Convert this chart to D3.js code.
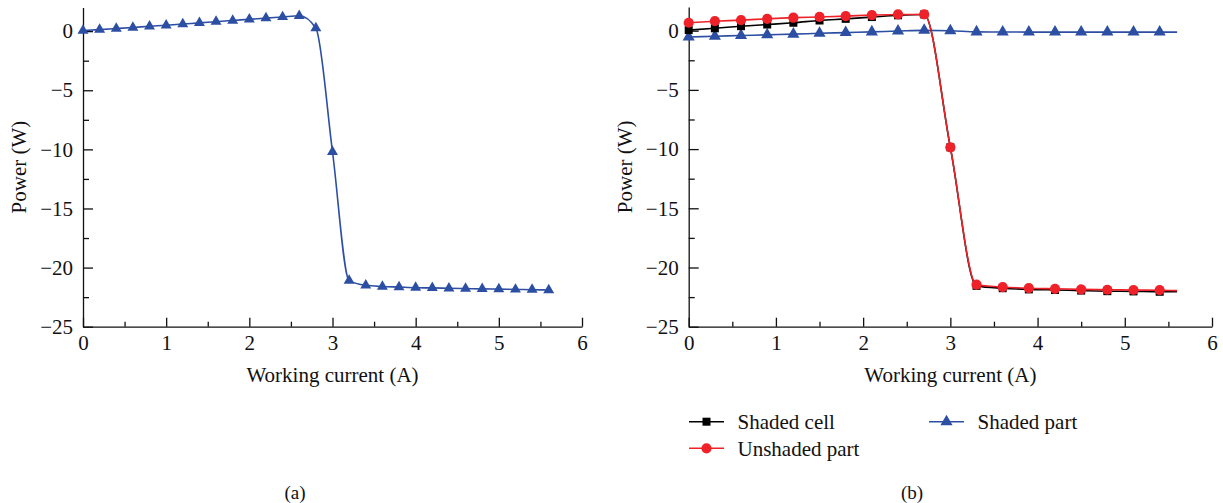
<!DOCTYPE html>
<html>
<head>
<meta charset="utf-8">
<script src="https://cdn.jsdelivr.net/npm/d3@7"></script>
<style>
  body { margin: 0; background: #fff; }
  text { font-family: "Liberation Serif", "Times New Roman", serif; fill: #111; }
</style>
</head>
<body>
<div id="chart"></div>
<script>
// panel (a): power of the shaded part vs working current
var currentA = [0, 0.2, 0.4, 0.6, 0.8, 1.0, 1.2, 1.4, 1.6, 1.8, 2.0, 2.2, 2.4, 2.6,
                2.8, 3.0, 3.2, 3.4, 3.6, 3.8, 4.0, 4.2, 4.4, 4.6, 4.8, 5.0, 5.2, 5.4, 5.6];
var powerA = [0.05, 0.13, 0.22, 0.31, 0.41, 0.5, 0.6, 0.7, 0.8, 0.9, 1.0, 1.1, 1.2, 1.3,
              0.25, -10.2, -21.1, -21.5, -21.6, -21.65, -21.7, -21.72, -21.75, -21.78,
              -21.8, -21.82, -21.85, -21.87, -21.9];

// panel (b): three series; the last value (5.6 A) is the line end, no marker
var currentB = [0, 0.3, 0.6, 0.9, 1.2, 1.5, 1.8, 2.1, 2.4, 2.7, 3.0, 3.3, 3.6, 3.9,
                4.2, 4.5, 4.8, 5.1, 5.4, 5.6];
var shadedCell = [0.05, 0.2, 0.38, 0.52, 0.67, 0.86, 1.0, 1.15, 1.3, 1.37, -9.85,
                  -21.55, -21.75, -21.85, -21.9, -21.95, -22.0, -22.02, -22.05, -22.05];
var unshadedPart = [0.67, 0.8, 0.89, 1.0, 1.1, 1.16, 1.23, 1.32, 1.37, 1.37, -9.85,
                    -21.45, -21.65, -21.75, -21.8, -21.85, -21.88, -21.9, -21.92, -21.95];
var shadedPart = [-0.53, -0.47, -0.41, -0.35, -0.29, -0.22, -0.16, -0.1, -0.03, 0.03, 0.0,
                  -0.1, -0.11, -0.12, -0.12, -0.12, -0.12, -0.12, -0.12, -0.12];
var markerLimitB = 5.4;

var xTicks = [0, 1, 2, 3, 4, 5, 6];
var xMinor = [0.5, 1.5, 2.5, 3.5, 4.5, 5.5];
var yTicks = [0, -5, -10, -15, -20, -25];
var yMinor = [-2.5, -7.5, -12.5, -17.5, -22.5];

var blue = "#2d4fa3", red = "#ee2228", black = "#000";
var serif = "'Liberation Serif', 'Times New Roman', serif";

var svg = d3.select("#chart").append("svg")
  .attr("width", 1223)
  .attr("height", 503);

function styleTicks(a) {
  a.attr("font-family", serif);
  a.selectAll("text").style("font-size", "21px").style("font-family", serif).attr("fill", "#111");
}

function drawPanel(x0, x1, yTop, letter, letterX) {
  var x = d3.scaleLinear().domain([0, 6]).range([x0, x1]);
  var y = d3.scaleLinear().domain([-25, 2]).range([326.7, yTop]);
  var g = svg.append("g");

  // minor ticks first, then the major axis on top
  g.append("g")
    .attr("transform", "translate(0," + y(-25) + ")")
    .call(d3.axisBottom(x).tickValues(xMinor).tickSize(-5).tickFormat(""))
    .call(function(a) { a.select(".domain").remove(); });
  g.append("g")
    .attr("transform", "translate(" + x(0) + ",0)")
    .call(d3.axisLeft(y).tickValues(yMinor).tickSize(-6).tickFormat(""))
    .call(function(a) { a.select(".domain").remove(); });

  g.append("g")
    .attr("transform", "translate(0," + y(-25) + ")")
    .call(d3.axisBottom(x).tickValues(xTicks).tickFormat(d3.format("d"))
      .tickSize(-9).tickSizeOuter(0).tickPadding(8))
    .call(styleTicks);
  g.append("g")
    .attr("transform", "translate(" + x(0) + ",0)")
    .call(d3.axisLeft(y).tickValues(yTicks).tickSize(-10).tickSizeOuter(0).tickPadding(10))
    .call(styleTicks);

  g.selectAll(".domain, .tick line").attr("stroke", "#111").attr("stroke-width", 1.3);

  g.append("text")
    .attr("x", (x0 + x1) / 2)
    .attr("y", 375)
    .attr("dy", "0.35em")
    .attr("text-anchor", "middle")
    .style("font-size", "21px")
    .text("Working current (A)");

  g.append("text")
    .attr("transform", "translate(" + (x0 - 64) + "," + y(-11.5) + ") rotate(-90)")
    .attr("dy", "0.35em")
    .attr("text-anchor", "middle")
    .style("font-size", "21px")
    .text("Power (W)");

  g.append("text")
    .attr("x", letterX)
    .attr("y", 492)
    .attr("dy", "0.35em")
    .attr("text-anchor", "middle")
    .style("font-size", "19px")
    .text(letter);

  return {g: g, x: x, y: y};
}

function drawSeries(p, xs, ys, color, symbol, size, limit) {
  var pts = xs.map(function(d, i) { return {x: d, y: ys[i]}; });
  var line = d3.line()
    .x(function(d) { return p.x(d.x); })
    .y(function(d) { return p.y(d.y); })
    .curve(d3.curveMonotoneX);
  p.g.append("path")
    .datum(pts)
    .attr("fill", "none")
    .attr("stroke", color)
    .attr("stroke-width", 1.6)
    .attr("d", line);
  p.g.selectAll(null)
    .data(pts.filter(function(d) { return d.x <= limit; }))
    .enter()
    .append("path")
    .attr("transform", function(d) { return "translate(" + p.x(d.x) + "," + p.y(d.y) + ")"; })
    .attr("d", d3.symbol().type(symbol).size(size))
    .attr("fill", color);
}

// (a)
var pa = drawPanel(83, 582, 7.5, "(a)", 295);
drawSeries(pa, currentA, powerA, blue, d3.symbolTriangle, 52, 6);

// (b)
var pb = drawPanel(688.7, 1212, 7, "(b)", 912);
drawSeries(pb, currentB, shadedPart, blue, d3.symbolTriangle, 64, markerLimitB);
drawSeries(pb, currentB, shadedCell, black, d3.symbolSquare, 64, markerLimitB);
drawSeries(pb, currentB, unshadedPart, red, d3.symbolCircle, 82, markerLimitB);

// legend for (b)
var legendItems = [
  {name: "Shaded cell", color: black, symbol: d3.symbolSquare, size: 64, x: 689, y: 421.7},
  {name: "Unshaded part", color: red, symbol: d3.symbolCircle, size: 82, x: 689, y: 448.3},
  {name: "Shaded part", color: blue, symbol: d3.symbolTriangle, size: 64, x: 929, y: 421.7}
];
var lg = svg.append("g").selectAll("g")
  .data(legendItems)
  .enter()
  .append("g")
  .attr("transform", function(d) { return "translate(" + d.x + "," + d.y + ")"; });
lg.append("line")
  .attr("x1", 0).attr("x2", 35)
  .attr("stroke", function(d) { return d.color; })
  .attr("stroke-width", 1.6);
lg.append("path")
  .attr("transform", "translate(17.5,0)")
  .attr("d", function(d) { return d3.symbol().type(d.symbol).size(d.size)(); })
  .attr("fill", function(d) { return d.color; });
lg.append("text")
  .attr("x", 48.5)
  .attr("dy", "0.35em")
  .style("font-size", "21px")
  .text(function(d) { return d.name; });
</script>
</body>
</html>
